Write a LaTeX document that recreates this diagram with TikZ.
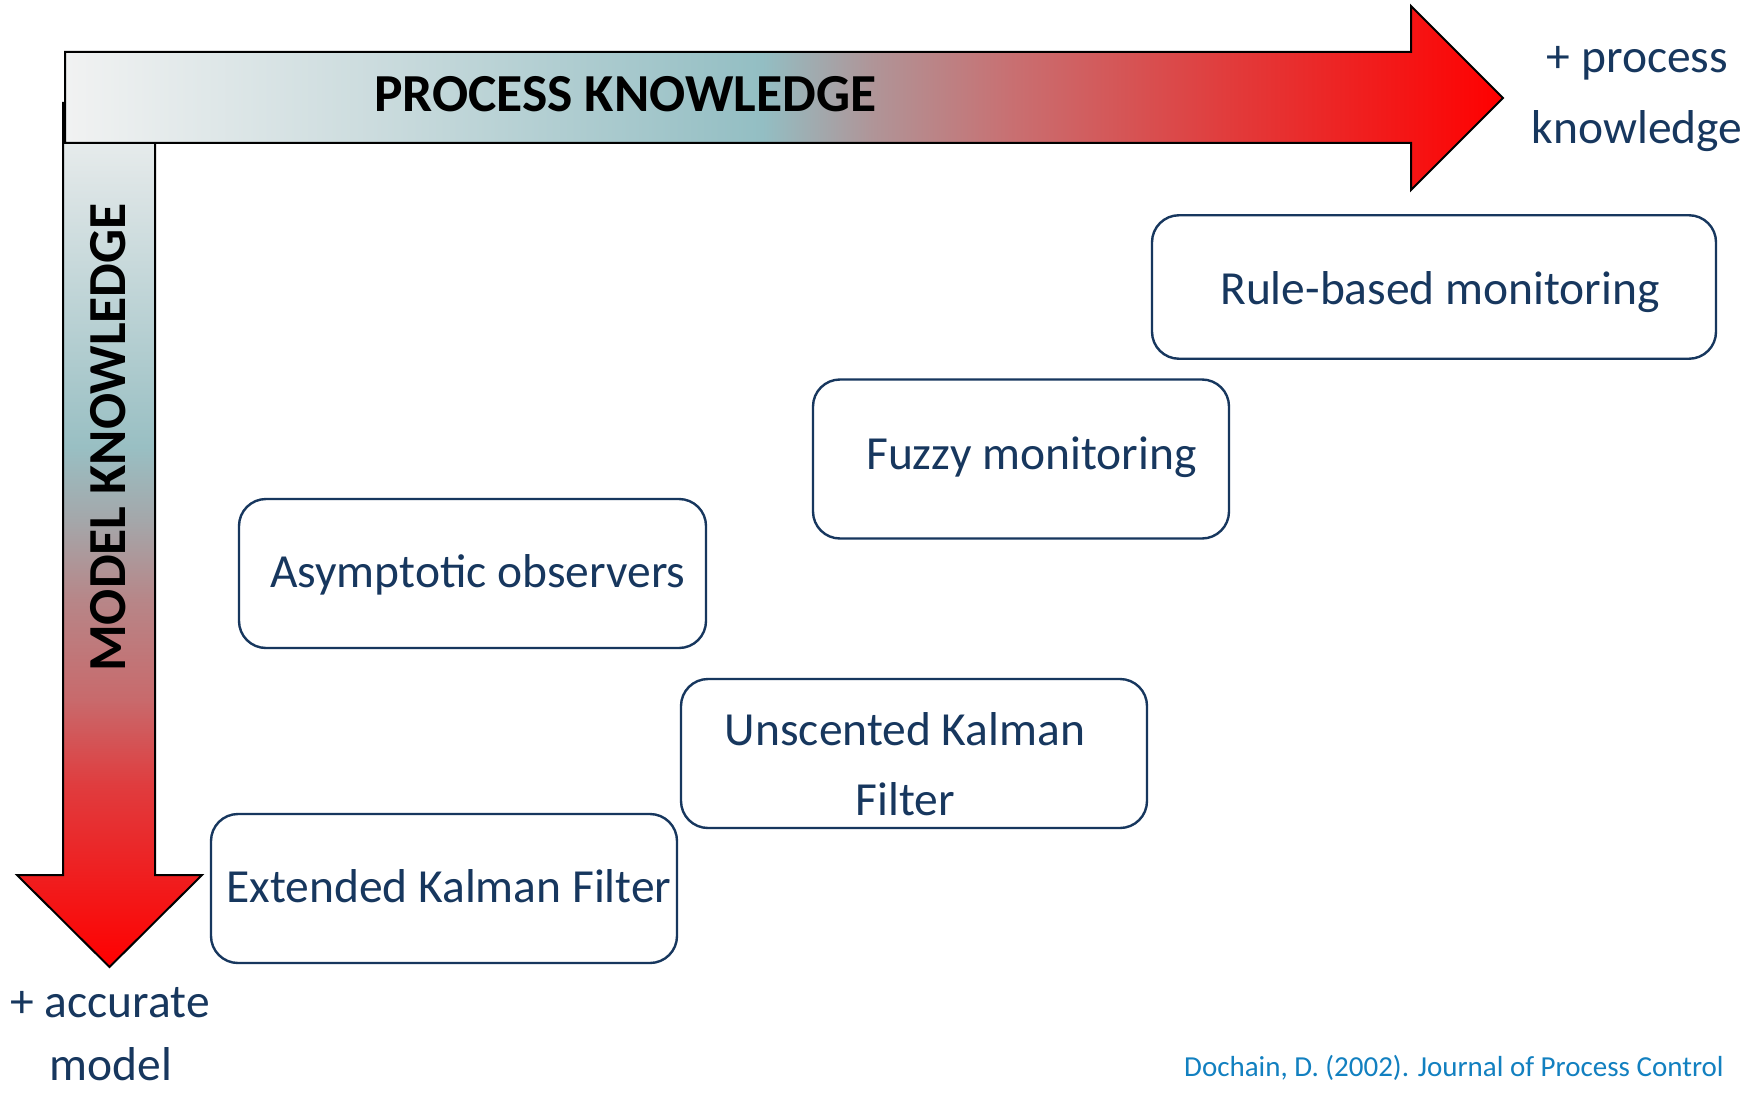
\documentclass[tikz,border=0pt]{standalone}
\usepackage{fontspec}
\setmainfont{Carlito}

\definecolor{navy}{RGB}{23,55,94}
\definecolor{citeblue}{RGB}{18,128,192}

% colour stops along the horizontal arrow (left to right)
\definecolor{pg0}{RGB}{241,242,242}
\definecolor{pg1}{RGB}{204,220,222}
\definecolor{pg2}{RGB}{147,190,195}
\definecolor{pg3}{RGB}{176,148,151}
\definecolor{pg4}{RGB}{200,112,114}
\definecolor{pg5}{RGB}{226,58,58}
\definecolor{pg6}{RGB}{255,0,0}

% colour stops along the vertical arrow (top to bottom)
\definecolor{mg0}{RGB}{240,242,242}
\definecolor{mg1}{RGB}{221,229,230}
\definecolor{mg2}{RGB}{153,191,195}
\definecolor{mg3}{RGB}{164,167,170}
\definecolor{mg4}{RGB}{183,134,136}
\definecolor{mg5}{RGB}{200,106,108}
\definecolor{mg6}{RGB}{224,60,62}
\definecolor{mg7}{RGB}{255,0,0}

\pgfdeclarehorizontalshading{processgrad}{100bp}{%
  color(0bp)=(pg0); color(25bp)=(pg0); color(35.6bp)=(pg1);
  color(49.25bp)=(pg2); color(53.15bp)=(pg3); color(57.85bp)=(pg4);
  color(65.7bp)=(pg5); color(75bp)=(pg6); color(100bp)=(pg6)}

\pgfdeclareverticalshading{modelgrad}{100bp}{%
  color(0bp)=(mg7); color(25bp)=(mg7); color(35.5bp)=(mg6);
  color(40.5bp)=(mg5); color(46.25bp)=(mg4); color(50.85bp)=(mg3);
  color(55.1bp)=(mg2); color(70.55bp)=(mg1); color(75bp)=(mg0);
  color(100bp)=(mg0)}

\begin{document}
\begin{tikzpicture}[x=1pt,y=-1pt,
  bigarrow/.style={draw=black,line width=2pt,line join=miter},
  methodbox/.style={draw=navy,line width=2.4pt,rounded corners=27pt,
    inner sep=0pt,fill=white},
  methodtext/.style={inner sep=0pt,text=navy,
    font=\fontsize{47.5}{57}\selectfont},
  axistitle/.style={inner sep=0pt,text=black,
    font=\fontsize{53.5}{60}\selectfont\bfseries},
  axisend/.style={inner sep=0pt,text=navy,anchor=base,
    font=\fontsize{47.5}{57}\selectfont},
  citation/.style={inner sep=0pt,text=citeblue,anchor=base west,
    font=\fontsize{29}{35}\selectfont}]

\useasboundingbox (0,0) rectangle (1760,1094);
\fill[white] (0,0) rectangle (1760,1094);

% model knowledge axis (downwards)
\path[bigarrow,shading=modelgrad]
  (63,103) -- (155,103) -- (155,875) -- (202,875) -- (109.5,967)
  -- (17,875) -- (63,875) -- cycle;

% process knowledge axis (to the right)
\path[bigarrow,shading=processgrad]
  (65,52) -- (1411,52) -- (1411,6) -- (1503,98) -- (1411,190)
  -- (1411,143) -- (65,143) -- cycle;

\node[axistitle,anchor=base west] (ptitle) at (374,112) {PROCESS KNOWLEDGE};
\node[axistitle,anchor=base west,rotate=90] (mtitle) at (125,672) {MODEL KNOWLEDGE};

% axis end labels
\node[axisend] (pend1) at (1637.5,73) {+ process};
\node[axisend] (pend2) at (1637,144) {knowledge};
\node[axisend] (mend1) at (110,1017) {+ accurate};
\node[axisend] (mend2) at (111,1080) {model};

% estimation / monitoring methods
\node[methodbox,minimum width=564pt,minimum height=143.5pt] (rule) at (1434,287) {};
\node[methodtext,anchor=base west] (ruletxt) at (1220,304) {Rule-based monitoring};

\node[methodbox,minimum width=416pt,minimum height=159pt] (fuzzy) at (1021,459) {};
\node[methodtext,anchor=base west] (fuzzytxt) at (866,469) {Fuzzy monitoring};

\node[methodbox,minimum width=467pt,minimum height=149pt] (asym) at (472.5,573.5) {};
\node[methodtext,anchor=base west] (asymtxt) at (270,587) {Asymptotic observers};

\node[methodbox,minimum width=466pt,minimum height=149pt] (ukf) at (914,753.5) {};
\node[methodtext,anchor=base] (ukftxt1) at (905,745) {Unscented Kalman};
\node[methodtext,anchor=base] (ukftxt2) at (905.5,815) {Filter};

\node[methodbox,minimum width=466pt,minimum height=149pt] (ekf) at (444,888.5) {};
\node[methodtext,anchor=base west] (ekftxt) at (226,902) {Extended Kalman Filter};

\node[citation] (cite) at (1184,1076) {Dochain, D. (2002). Journal of Process Control};

\end{tikzpicture}
\end{document}
